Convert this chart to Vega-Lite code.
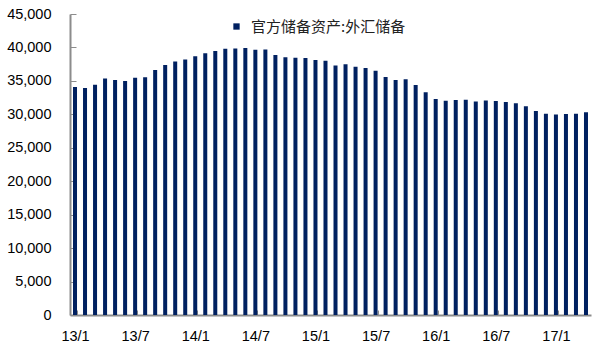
{
  "$schema": "https://vega.github.io/schema/vega-lite/v6.json",
  "width": 521,
  "height": 301,
  "autosize": {"type": "none"},
  "padding": {"left": 70, "top": 14, "right": 5, "bottom": 32},
  "background": "white",
  "config": {
    "view": {"stroke": null},
    "font": "Liberation Sans"
  },
  "data": {
    "values": [
      {"month": "13/1", "series": "官方储备资产:外汇储备", "value": 34100},
      {"month": "13/2", "series": "官方储备资产:外汇储备", "value": 33954},
      {"month": "13/3", "series": "官方储备资产:外汇储备", "value": 34426},
      {"month": "13/4", "series": "官方储备资产:外汇储备", "value": 35345},
      {"month": "13/5", "series": "官方储备资产:外汇储备", "value": 35148},
      {"month": "13/6", "series": "官方储备资产:外汇储备", "value": 34967},
      {"month": "13/7", "series": "官方储备资产:外汇储备", "value": 35478},
      {"month": "13/8", "series": "官方储备资产:外汇储备", "value": 35530},
      {"month": "13/9", "series": "官方储备资产:外汇储备", "value": 36627},
      {"month": "13/10", "series": "官方储备资产:外汇储备", "value": 37366},
      {"month": "13/11", "series": "官方储备资产:外汇储备", "value": 37895},
      {"month": "13/12", "series": "官方储备资产:外汇储备", "value": 38213},
      {"month": "14/1", "series": "官方储备资产:外汇储备", "value": 38666},
      {"month": "14/2", "series": "官方储备资产:外汇储备", "value": 39137},
      {"month": "14/3", "series": "官方储备资产:外汇储备", "value": 39481},
      {"month": "14/4", "series": "官方储备资产:外汇储备", "value": 39788},
      {"month": "14/5", "series": "官方储备资产:外汇储备", "value": 39839},
      {"month": "14/6", "series": "官方储备资产:外汇储备", "value": 39932},
      {"month": "14/7", "series": "官方储备资产:外汇储备", "value": 39660},
      {"month": "14/8", "series": "官方储备资产:外汇储备", "value": 39688},
      {"month": "14/9", "series": "官方储备资产:外汇储备", "value": 38877},
      {"month": "14/10", "series": "官方储备资产:外汇储备", "value": 38529},
      {"month": "14/11", "series": "官方储备资产:外汇储备", "value": 38473},
      {"month": "14/12", "series": "官方储备资产:外汇储备", "value": 38430},
      {"month": "15/1", "series": "官方储备资产:外汇储备", "value": 38134},
      {"month": "15/2", "series": "官方储备资产:外汇储备", "value": 38015},
      {"month": "15/3", "series": "官方储备资产:外汇储备", "value": 37300},
      {"month": "15/4", "series": "官方储备资产:外汇储备", "value": 37481},
      {"month": "15/5", "series": "官方储备资产:外汇储备", "value": 37111},
      {"month": "15/6", "series": "官方储备资产:外汇储备", "value": 36938},
      {"month": "15/7", "series": "官方储备资产:外汇储备", "value": 36513},
      {"month": "15/8", "series": "官方储备资产:外汇储备", "value": 35574},
      {"month": "15/9", "series": "官方储备资产:外汇储备", "value": 35141},
      {"month": "15/10", "series": "官方储备资产:外汇储备", "value": 35255},
      {"month": "15/11", "series": "官方储备资产:外汇储备", "value": 34383},
      {"month": "15/12", "series": "官方储备资产:外汇储备", "value": 33304},
      {"month": "16/1", "series": "官方储备资产:外汇储备", "value": 32309},
      {"month": "16/2", "series": "官方储备资产:外汇储备", "value": 32023},
      {"month": "16/3", "series": "官方储备资产:外汇储备", "value": 32126},
      {"month": "16/4", "series": "官方储备资产:外汇储备", "value": 32197},
      {"month": "16/5", "series": "官方储备资产:外汇储备", "value": 31917},
      {"month": "16/6", "series": "官方储备资产:外汇储备", "value": 32052},
      {"month": "16/7", "series": "官方储备资产:外汇储备", "value": 32011},
      {"month": "16/8", "series": "官方储备资产:外汇储备", "value": 31852},
      {"month": "16/9", "series": "官方储备资产:外汇储备", "value": 31664},
      {"month": "16/10", "series": "官方储备资产:外汇储备", "value": 31207},
      {"month": "16/11", "series": "官方储备资产:外汇储备", "value": 30516},
      {"month": "16/12", "series": "官方储备资产:外汇储备", "value": 30105},
      {"month": "17/1", "series": "官方储备资产:外汇储备", "value": 29982},
      {"month": "17/2", "series": "官方储备资产:外汇储备", "value": 30051},
      {"month": "17/3", "series": "官方储备资产:外汇储备", "value": 30091},
      {"month": "17/4", "series": "官方储备资产:外汇储备", "value": 30295}
    ]
  },
  "mark": {"type": "bar"},
  "encoding": {
    "x": {
      "field": "month",
      "type": "ordinal",
      "sort": null,
      "scale": {"paddingInner": 0.6, "paddingOuter": 0.3},
      "axis": {
        "title": null,
        "values": ["13/1", "13/7", "14/1", "14/7", "15/1", "15/7", "16/1", "16/7", "17/1"],
        "labelAngle": 0,
        "tickBand": "extent",
        "tickSize": -5,
        "tickColor": "#8c8c8c",
        "domainColor": "#8c8c8c",
        "domainWidth": 2,
        "labelFontSize": 14.5,
        "labelColor": "#000000",
        "labelPadding": 19
      }
    },
    "y": {
      "field": "value",
      "type": "quantitative",
      "scale": {"domain": [0, 45000], "nice": false},
      "axis": {
        "title": null,
        "values": [0, 5000, 10000, 15000, 20000, 25000, 30000, 35000, 40000, 45000],
        "format": ",.0f",
        "grid": false,
        "tickSize": -6,
        "tickColor": "#8c8c8c",
        "domainColor": "#8c8c8c",
        "domainWidth": 2,
        "labelFontSize": 14.5,
        "labelColor": "#000000",
        "labelPadding": 25
      }
    },
    "color": {
      "field": "series",
      "type": "nominal",
      "scale": {"range": ["#002060"]},
      "legend": {
        "title": null,
        "orient": "none",
        "legendX": 159,
        "legendY": 5,
        "symbolType": "square",
        "symbolSize": 40,
        "symbolStrokeWidth": 0,
        "labelFont": "Noto Sans CJK SC",
        "labelFontSize": 15,
        "labelColor": "#222222",
        "labelOffset": 7
      }
    }
  }
}
